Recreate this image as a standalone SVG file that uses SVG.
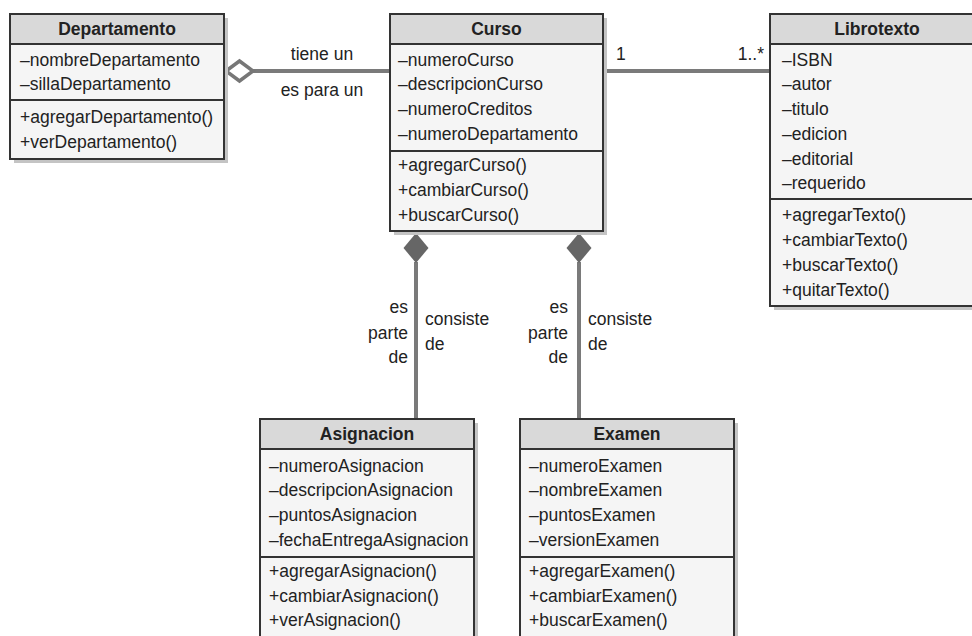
<svg xmlns="http://www.w3.org/2000/svg" width="972" height="636" viewBox="0 0 972 636">
<defs>
<style>
text{font-family:"Liberation Sans",Arial,sans-serif;font-size:17.5px;fill:#222}
.h{font-weight:bold;text-anchor:middle}
.shadow{fill:#c4c4c4}
.hdr{fill:#d9d9d9;stroke:#333;stroke-width:2}
.body{fill:#f5f5f5;stroke:#333;stroke-width:2}
.conn{stroke:#7a7a7a;stroke-width:4;fill:none}
.end{text-anchor:end}
</style>
</defs>
<rect width="972" height="636" fill="#fff"/>
<g id="connectors">
<line class="conn" x1="253" y1="71" x2="390" y2="71"/>
<polygon points="226,71 239.5,61 253,71 239.5,81" fill="#fff" stroke="#777" stroke-width="3.5"/>
<line class="conn" x1="603" y1="71" x2="770" y2="71"/>
<line class="conn" x1="416" y1="262" x2="416" y2="419"/>
<polygon points="416,233 428.5,248 416,263 403.5,248" fill="#666"/>
<line class="conn" x1="579" y1="262" x2="579" y2="419"/>
<polygon points="579,233 591.5,248 579,263 566.5,248" fill="#666"/>
<text x="322" y="60" text-anchor="middle">tiene un</text>
<text x="322" y="96" text-anchor="middle">es para un</text>
<text x="616" y="60">1</text>
<text x="764" y="60" class="end">1..*</text>
<text x="408" y="313" class="end">es</text>
<text x="408" y="339" class="end">parte</text>
<text x="408" y="363" class="end">de</text>
<text x="425" y="325">consiste</text>
<text x="425" y="350">de</text>
<text x="568" y="313" class="end">es</text>
<text x="568" y="339" class="end">parte</text>
<text x="568" y="363" class="end">de</text>
<text x="588" y="325">consiste</text>
<text x="588" y="350">de</text>
</g>
<g id="departamento">
<rect class="shadow" x="14" y="18" width="214" height="145"/>
<rect class="body" x="10" y="14" width="214" height="145"/>
<rect class="hdr" x="10" y="14" width="214" height="30"/>
<line x1="10" y1="100" x2="224" y2="100" stroke="#333" stroke-width="2"/>
<text x="117" y="35" class="h">Departamento</text>
<text x="20" y="66">–nombreDepartamento</text>
<text x="20" y="90">–sillaDepartamento</text>
<text x="20" y="123">+agregarDepartamento()</text>
<text x="20" y="148">+verDepartamento()</text>
</g>
<g id="curso">
<rect class="shadow" x="394" y="18" width="213" height="217"/>
<rect class="body" x="390" y="14" width="213" height="217"/>
<rect class="hdr" x="390" y="14" width="213" height="30"/>
<line x1="390" y1="151" x2="603" y2="151" stroke="#333" stroke-width="2"/>
<text x="496.5" y="35" class="h">Curso</text>
<text x="398" y="66">–numeroCurso</text>
<text x="398" y="90">–descripcionCurso</text>
<text x="398" y="115">–numeroCreditos</text>
<text x="398" y="140">–numeroDepartamento</text>
<text x="398" y="171">+agregarCurso()</text>
<text x="398" y="196">+cambiarCurso()</text>
<text x="398" y="221">+buscarCurso()</text>
</g>
<g id="librotexto">
<rect class="shadow" x="774" y="18" width="214" height="292"/>
<rect class="body" x="770" y="14" width="214" height="292"/>
<rect class="hdr" x="770" y="14" width="214" height="30"/>
<line x1="770" y1="199" x2="984" y2="199" stroke="#333" stroke-width="2"/>
<text x="877" y="35" class="h">Librotexto</text>
<text x="782" y="66">–ISBN</text>
<text x="782" y="90">–autor</text>
<text x="782" y="115">–titulo</text>
<text x="782" y="140">–edicion</text>
<text x="782" y="165">–editorial</text>
<text x="782" y="189">–requerido</text>
<text x="782" y="221">+agregarTexto()</text>
<text x="782" y="246">+cambiarTexto()</text>
<text x="782" y="271">+buscarTexto()</text>
<text x="782" y="296">+quitarTexto()</text>
</g>
<g id="asignacion">
<rect class="shadow" x="264" y="423" width="214" height="240"/>
<rect class="body" x="260" y="419" width="214" height="240"/>
<rect class="hdr" x="260" y="419" width="214" height="30"/>
<line x1="260" y1="557" x2="474" y2="557" stroke="#333" stroke-width="2"/>
<text x="367" y="440" class="h">Asignacion</text>
<text x="269" y="472">–numeroAsignacion</text>
<text x="269" y="496">–descripcionAsignacion</text>
<text x="269" y="521">–puntosAsignacion</text>
<text x="269" y="546">–fechaEntregaAsignacion</text>
<text x="269" y="577">+agregarAsignacion()</text>
<text x="269" y="602">+cambiarAsignacion()</text>
<text x="269" y="626">+verAsignacion()</text>
</g>
<g id="examen">
<rect class="shadow" x="524" y="423" width="214" height="240"/>
<rect class="body" x="520" y="419" width="214" height="240"/>
<rect class="hdr" x="520" y="419" width="214" height="30"/>
<line x1="520" y1="557" x2="734" y2="557" stroke="#333" stroke-width="2"/>
<text x="627" y="440" class="h">Examen</text>
<text x="529" y="472">–numeroExamen</text>
<text x="529" y="496">–nombreExamen</text>
<text x="529" y="521">–puntosExamen</text>
<text x="529" y="546">–versionExamen</text>
<text x="529" y="577">+agregarExamen()</text>
<text x="529" y="602">+cambiarExamen()</text>
<text x="529" y="626">+buscarExamen()</text>
</g>
</svg>
